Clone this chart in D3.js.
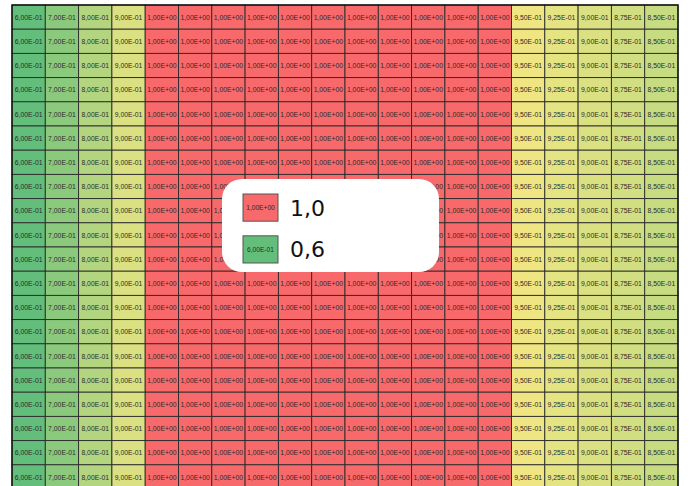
<!DOCTYPE html>
<html>
<head>
<meta charset="utf-8">
<script src="https://cdn.jsdelivr.net/npm/d3@7"></script>
<style>
  html, body { margin: 0; padding: 0; background: #fff; }
  svg { display: block; }
</style>
</head>
<body>
<svg id="chart" width="690" height="486"></svg>
<script>
// Value in each column of the table (every row repeats the same pattern)
const columnValues = [0.6, 0.7, 0.8, 0.9,
  1, 1, 1, 1, 1, 1, 1, 1, 1, 1, 1,
  0.95, 0.925, 0.9, 0.875, 0.85];
const rowIds = [1, 2, 3, 4, 5, 6, 7, 8, 9, 10, 11, 12, 13, 14, 15, 16, 17, 18, 19, 20];

// Legend entries
const legendValues = [1.0, 0.6];
const legendLabels = ["1,0", "0,6"];

// Colour scale stops: low green, yellow just under the top, red at the top
const colorStops = [0.6, 0.99, 1.0];
const colorRange = ["#63BE7B", "#FFEB84", "#F8696B"];

const svg = d3.select("#chart");
const W = 690, H = 486;

const grid = { left: 12, right: 678, top: 5, rowH: 24.2 };
const legendBox = { x: 222, y: 179, w: 217, h: 93, r: 20 };
const cellFont = { family: "Liberation Sans, Arial, sans-serif", size: 7.6, squeeze: 0.9 };

const x = d3.scaleBand()
  .domain(d3.range(columnValues.length))
  .range([grid.left, grid.right]);
const y = d3.scaleBand()
  .domain(rowIds)
  .range([grid.top, grid.top + grid.rowH * rowIds.length]);

const color = d3.scaleLinear().domain(colorStops).range(colorRange).clamp(true);

// Scientific format with a comma decimal separator, e.g. 6,00E-01
function sci(v) {
  const [m, e] = v.toExponential(2).split("e");
  const ev = +e;
  return m.replace(".", ",") + "E" + (ev < 0 ? "-" : "+") + String(Math.abs(ev)).padStart(2, "0");
}

svg.append("rect").attr("width", W).attr("height", H).attr("fill", "#fff");

const cells = [];
rowIds.forEach(r => columnValues.forEach((v, c) => cells.push({ r, c, v })));

// A cell's label is hidden when it lies entirely under the legend box
function hiddenByLegend(d) {
  const cy = y(d.r) + y.bandwidth() / 2;
  const x0 = x(d.c), x1 = x0 + x.bandwidth();
  return cy > legendBox.y + 4 && cy < legendBox.y + legendBox.h - 4 &&
    x0 >= legendBox.x && x1 <= legendBox.x + legendBox.w;
}

const g = svg.append("g");
g.selectAll("rect.cell")
  .data(cells)
  .join("rect")
  .attr("class", "cell")
  .attr("x", d => x(d.c))
  .attr("y", d => y(d.r))
  .attr("width", x.bandwidth())
  .attr("height", y.bandwidth())
  .attr("fill", d => color(d.v))
  .attr("stroke", "#2a2a2a")
  .attr("stroke-width", 0.9);

// Narrow cell labels: the face is squeezed horizontally to fit the cells
g.selectAll("text.cell")
  .data(cells.filter(d => !hiddenByLegend(d)))
  .join("text")
  .attr("class", "cell")
  .attr("transform", d =>
    `translate(${x(d.c) + x.bandwidth() / 2},${y(d.r) + y.bandwidth() / 2}) scale(${cellFont.squeeze},1)`)
  .attr("dy", "0.35em")
  .attr("text-anchor", "middle")
  .attr("font-family", cellFont.family)
  .attr("font-size", cellFont.size)
  .attr("fill", "#2b2b2b")
  .text(d => sci(d.v));

// Outer border
svg.append("rect")
  .attr("x", grid.left).attr("y", grid.top)
  .attr("width", grid.right - grid.left)
  .attr("height", grid.rowH * rowIds.length)
  .attr("fill", "none")
  .attr("stroke", "#111")
  .attr("stroke-width", 1.4);

// Legend box
const legend = svg.append("g");
legend.append("rect")
  .attr("x", legendBox.x).attr("y", legendBox.y)
  .attr("width", legendBox.w).attr("height", legendBox.h)
  .attr("rx", legendBox.r).attr("ry", legendBox.r)
  .attr("fill", "#fff");

const ly = d3.scaleBand().domain(legendValues).range([194, 263]).paddingInner(0.35);
const items = legend.selectAll("g.item")
  .data(legendValues.map((v, i) => ({ v, label: legendLabels[i] })))
  .join("g")
  .attr("class", "item")
  .attr("transform", d => `translate(243,${ly(d.v)})`);

items.append("rect")
  .attr("width", 35)
  .attr("height", ly.bandwidth())
  .attr("fill", d => color(d.v))
  .attr("stroke", "#555")
  .attr("stroke-width", 1);

items.append("text")
  .attr("transform", `translate(17.5,${ly.bandwidth() / 2}) scale(0.85,1)`)
  .attr("dy", "0.35em")
  .attr("text-anchor", "middle")
  .attr("font-family", cellFont.family)
  .attr("font-size", 7.8)
  .attr("fill", "#2b2b2b")
  .text(d => sci(d.v));

items.append("text")
  .attr("x", 47)
  .attr("y", ly.bandwidth() / 2)
  .attr("dy", "0.36em")
  .attr("font-family", "DejaVu Sans, sans-serif")
  .attr("font-size", 22)
  .attr("fill", "#111")
  .text(d => d.label);
</script>
</body>
</html>
